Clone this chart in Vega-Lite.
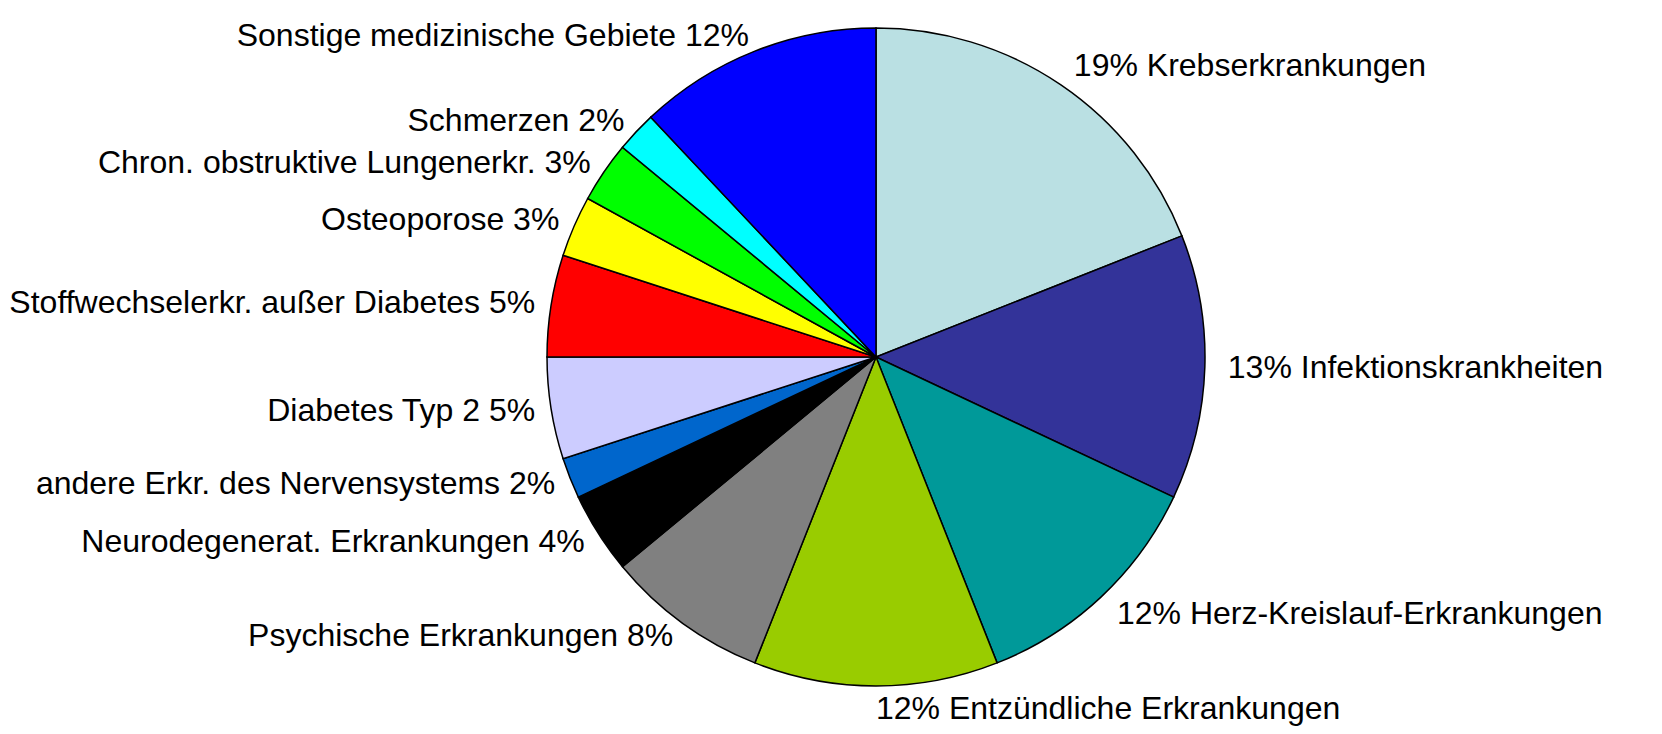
{
  "$schema": "https://vega.github.io/schema/vega-lite/v6.json",
  "width": 1572,
  "height": 714,
  "autosize": "none",
  "padding": {"left": 90, "top": 0, "right": 0, "bottom": 20},
  "background": "white",
  "config": {"view": {"stroke": null}},
  "data": {
    "values": [
      {"order": 1, "name": "Krebserkrankungen", "value": 19, "label": "19% Krebserkrankungen"},
      {"order": 2, "name": "Infektionskrankheiten", "value": 13, "label": "13% Infektionskrankheiten"},
      {"order": 3, "name": "Herz-Kreislauf-Erkrankungen", "value": 12, "label": "12% Herz-Kreislauf-Erkrankungen"},
      {"order": 4, "name": "Entzündliche Erkrankungen", "value": 12, "label": "12% Entzündliche Erkrankungen"},
      {"order": 5, "name": "Psychische Erkrankungen", "value": 8, "label": "Psychische Erkrankungen 8%"},
      {"order": 6, "name": "Neurodegenerat. Erkrankungen", "value": 4, "label": "Neurodegenerat.  Erkrankungen 4%"},
      {"order": 7, "name": "andere Erkr. des Nervensystems", "value": 2, "label": "andere Erkr. des Nervensystems 2%"},
      {"order": 8, "name": "Diabetes Typ 2", "value": 5, "label": "Diabetes Typ 2  5%"},
      {"order": 9, "name": "Stoffwechselerkr. außer Diabetes", "value": 5, "label": "Stoffwechselerkr. außer Diabetes 5%"},
      {"order": 10, "name": "Osteoporose", "value": 3, "label": "Osteoporose 3%"},
      {"order": 11, "name": "Chron. obstruktive Lungenerkr.", "value": 3, "label": "Chron. obstruktive Lungenerkr. 3%"},
      {"order": 12, "name": "Schmerzen", "value": 2, "label": "Schmerzen 2%"},
      {"order": 13, "name": "Sonstige medizinische Gebiete", "value": 12, "label": "Sonstige medizinische Gebiete 12%"}
    ]
  },
  "encoding": {
    "theta": {"field": "value", "type": "quantitative", "stack": true},
    "order": {"field": "order", "type": "quantitative", "sort": "ascending"}
  },
  "layer": [
    {
      "mark": {"type": "arc", "outerRadius": 329, "stroke": "black", "strokeWidth": 1.5},
      "encoding": {
        "color": {
          "field": "name",
          "type": "nominal",
          "legend": null,
          "scale": {
            "domain": ["Krebserkrankungen", "Infektionskrankheiten", "Herz-Kreislauf-Erkrankungen", "Entzündliche Erkrankungen", "Psychische Erkrankungen", "Neurodegenerat. Erkrankungen", "andere Erkr. des Nervensystems", "Diabetes Typ 2", "Stoffwechselerkr. außer Diabetes", "Osteoporose", "Chron. obstruktive Lungenerkr.", "Schmerzen", "Sonstige medizinische Gebiete"],
            "range": ["#BAE0E3", "#333399", "#009999", "#99CC00", "#808080", "#000000", "#0066CC", "#CCCCFF", "#FF0000", "#FFFF00", "#00FF00", "#00FFFF", "#0000FF"]
          }
        }
      }
    },
    {
      "mark": {"type": "text", "radius": 352, "align": "left", "baseline": "middle", "font": "Liberation Sans", "fontSize": 32, "color": "black"},
      "encoding": {
        "text": {"condition": {"test": "datum.order <= 4", "field": "label"}, "value": ""}
      }
    },
    {
      "mark": {"type": "text", "radius": 345, "align": "right", "baseline": "middle", "font": "Liberation Sans", "fontSize": 32, "color": "black"},
      "encoding": {
        "text": {"condition": {"test": "datum.order > 4", "field": "label"}, "value": ""}
      }
    }
  ]
}
